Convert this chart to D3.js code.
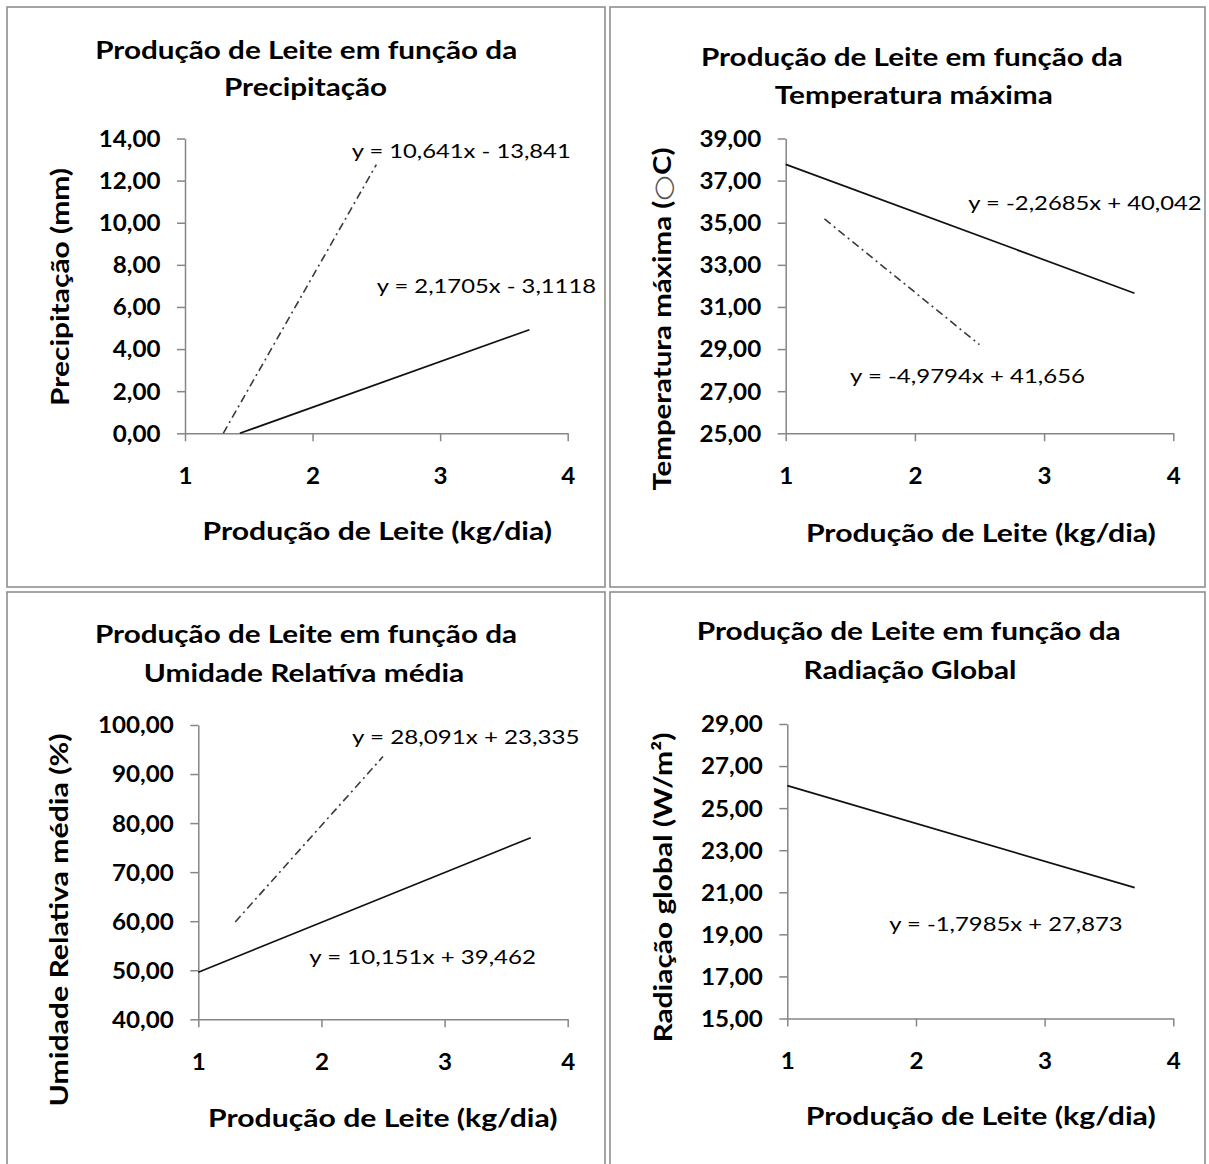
<!DOCTYPE html>
<html><head><meta charset="utf-8">
<script src="https://cdn.jsdelivr.net/npm/d3@7"></script>
<style>
html,body{margin:0;padding:0;background:#fff;}
svg{display:block;font-family:Lato,"Open Sans",sans-serif;}
</style>
</head><body>
<svg id="chart" width="1209" height="1164"></svg>
<script>
// ---------------- DATA ----------------
const xTickValues = [1, 2, 3, 4];
const xAxisTitle = "Produção de Leite (kg/dia)";

const titlesPrecip = ["Produção de Leite em função da", "Precipitação"];
const titlesTemp   = ["Produção de Leite em função da", "Temperatura máxima"];
const titlesUmid   = ["Produção de Leite em função da", "Umidade Relatíva média"];
const titlesRad    = ["Produção de Leite em função da", "Radiação Global"];

const yTitlePrecip = "Precipitação (mm)";
const yTitleTemp   = "Temperatura máxima (○C)";
const yTitleUmid   = "Umidade Relativa média (%)";
const yTitleRad    = "Radiação global (W/m²)";

const yTicksPrecip = [0, 2, 4, 6, 8, 10, 12, 14];
const yTicksTemp   = [25, 27, 29, 31, 33, 35, 37, 39];
const yTicksUmid   = [40, 50, 60, 70, 80, 90, 100];
const yTicksRad    = [15, 17, 19, 21, 23, 25, 27, 29];

// trend-line end points (x = Produção de Leite, y = variável)
const precipSolid   = [{x: 1.43, y: 0.00}, {x: 3.70, y: 4.92}];
const precipDashDot = [{x: 1.30, y: 0.00}, {x: 2.50, y: 12.76}];
const tempSolid     = [{x: 1.00, y: 37.77}, {x: 3.70, y: 31.65}];
const tempDashDot   = [{x: 1.30, y: 35.18}, {x: 2.50, y: 29.21}];
const umidSolid     = [{x: 1.00, y: 49.61}, {x: 3.70, y: 77.02}];
const umidDashDot   = [{x: 1.30, y: 59.85}, {x: 2.50, y: 93.56}];
const radSolid      = [{x: 1.00, y: 26.07}, {x: 3.70, y: 21.22}];

const eqPrecip = ["y = 10,641x - 13,841", "y = 2,1705x - 3,1118"];
const eqTemp   = ["y = -2,2685x + 40,042", "y = -4,9794x + 41,656"];
const eqUmid   = ["y = 28,091x + 23,335", "y = 10,151x + 39,462"];
const eqRad    = ["y = -1,7985x + 27,873"];

// ---------------- LAYOUT ----------------
const panels = [
  { titles: titlesPrecip, yTitle: yTitlePrecip, yTicks: yTicksPrecip,
    solid: precipSolid, dash: precipDashDot, eqs: eqPrecip,
    box: [7, 7, 605, 587], plot: {x0: 185, x1: 567.7, y0: 138.5, y1: 433.3},
    t: [{cx: 306.2, b: 58.5, w: 422}, {cx: 305.5, b: 96.2, w: 163}],
    yl: {cx: 62.5, cy: 287, len: 238}, xl: {cx: 377.3, b: 540, w: 349.5},
    eqPos: [{x: 351.7, b: 158.3, w: 219}, {x: 376.7, b: 293.3, w: 219.3}] },
  { titles: titlesTemp, yTitle: yTitleTemp, yTicks: yTicksTemp,
    solid: tempSolid, dash: tempDashDot, eqs: eqTemp,
    box: [610, 7, 1205, 587], plot: {x0: 785.7, x1: 1173.3, y0: 138.5, y1: 433.3},
    t: [{cx: 911.9, b: 66, w: 422}, {cx: 913.8, b: 103.8, w: 278}],
    yl: {cx: 665, cy: 319, len: 343}, xl: {cx: 980.9, b: 541.5, w: 350},
    eqPos: [{x: 968.3, b: 210, w: 233.4}, {x: 850, b: 383.3, w: 235}] },
  { titles: titlesUmid, yTitle: yTitleUmid, yTicks: yTicksUmid,
    solid: umidSolid, dash: umidDashDot, eqs: eqUmid,
    box: [7, 592, 605, 1172], plot: {x0: 198.3, x1: 567.7, y0: 725, y1: 1019.3},
    t: [{cx: 306, b: 642.5, w: 422}, {cx: 304, b: 681.5, w: 320.5}],
    yl: {cx: 62, cy: 920, len: 373}, xl: {cx: 382.8, b: 1127, w: 349.5},
    eqPos: [{x: 352, b: 743.5, w: 227.6}, {x: 309.2, b: 963.5, w: 226.8}] },
  { titles: titlesRad, yTitle: yTitleRad, yTicks: yTicksRad,
    solid: radSolid, dash: null, eqs: eqRad,
    box: [610, 592, 1205, 1172], plot: {x0: 787.3, x1: 1173.3, y0: 724, y1: 1018.5},
    t: [{cx: 908.7, b: 639.5, w: 424}, {cx: 910, b: 678.5, w: 213}],
    yl: {cx: 665.5, cy: 887.6, len: 310}, xl: {cx: 980.7, b: 1124.6, w: 350},
    eqPos: [{x: 889.2, b: 931.3, w: 233.5}] }
];

const ptBR = d3.formatLocale({decimal: ",", thousands: ".", grouping: [3], currency: ["R$", ""]});
const fmt2 = ptBR.format(".2f");

const svg = d3.select("#chart");
svg.append("rect").attr("width", 1209).attr("height", 1164).attr("fill", "#fff");

panels.forEach(p => {
  const g = svg.append("g");
  // panel border
  g.append("rect")
    .attr("x", p.box[0]).attr("y", p.box[1])
    .attr("width", p.box[2] - p.box[0]).attr("height", p.box[3] - p.box[1])
    .attr("fill", "none").attr("stroke", "#8f8f8f").attr("stroke-width", 1.6);

  const x = d3.scaleLinear().domain([1, 4]).range([p.plot.x0, p.plot.x1]);
  const y = d3.scaleLinear().domain(d3.extent(p.yTicks)).range([p.plot.y1, p.plot.y0]);

  // axes
  const yAx = g.append("g").attr("transform", `translate(${p.plot.x0},0)`)
    .call(d3.axisLeft(y).tickValues(p.yTicks).tickSizeInner(8).tickSizeOuter(0).tickPadding(16.5).tickFormat(fmt2));
  const xAx = g.append("g").attr("transform", `translate(0,${p.plot.y1})`)
    .call(d3.axisBottom(x).tickValues(xTickValues).tickSizeInner(8).tickSizeOuter(0).tickFormat(d3.format("d")));
  [yAx, xAx].forEach(a => {
    a.select(".domain").attr("stroke", "#868686").attr("stroke-width", 1.5);
    a.selectAll(".tick line").attr("stroke", "#868686").attr("stroke-width", 1.5);
    a.selectAll(".tick text").attr("fill", "#000")
      .style("font-family", "Lato, 'Open Sans', sans-serif")
      .style("font-weight", "bold").style("font-size", "22px");
  });
  yAx.selectAll(".tick text").attr("dy", "0.36em");
  xAx.selectAll(".tick text").attr("y", 50.7).attr("dy", 0);
  [yAx, xAx].forEach(a => a.selectAll(".tick text").each(function () {
    const L = this.getComputedTextLength();
    d3.select(this).attr("textLength", L * 1.1).attr("lengthAdjust", "spacingAndGlyphs");
  }));

  // trend lines
  const line = d3.line().x(d => x(d.x)).y(d => y(d.y));
  if (p.dash) {
    g.append("path").datum(p.dash).attr("d", line)
      .attr("fill", "none").attr("stroke", "#3a3a3a").attr("stroke-width", 1.6)
      .attr("stroke-dasharray", "8,4,2,4");
  }
  g.append("path").datum(p.solid).attr("d", line)
    .attr("fill", "none").attr("stroke", "#111").attr("stroke-width", 1.7);

  // titles
  p.titles.forEach((txt, i) => {
    g.append("text").attr("x", p.t[i].cx).attr("y", p.t[i].b)
      .attr("text-anchor", "middle").attr("font-weight", "bold").attr("font-size", 25)
      .attr("fill", "#000")
      .attr("textLength", p.t[i].w).attr("lengthAdjust", "spacingAndGlyphs")
      .text(txt);
  });

  // y axis title (symbol ○ drawn with a font that has it)
  const yt = g.append("text")
    .attr("transform", `translate(${p.yl.cx},${p.yl.cy}) rotate(-90)`)
    .attr("text-anchor", "middle").attr("dy", "0.26em")
    .attr("font-weight", "bold").attr("font-size", 24).attr("fill", "#000")
    .attr("textLength", p.yl.len).attr("lengthAdjust", "spacingAndGlyphs");
  p.yTitle.split(/(○)/).forEach(part => {
    if (!part) return;
    const ts = yt.append("tspan").text(part);
    if (part === "○") ts.style("font-family", "'DejaVu Sans'").attr("font-weight", "normal").attr("fill", "#555");
  });

  // x axis title
  g.append("text").attr("x", p.xl.cx).attr("y", p.xl.b)
    .attr("text-anchor", "middle").attr("font-weight", "bold").attr("font-size", 24)
    .attr("fill", "#000")
    .attr("textLength", p.xl.w).attr("lengthAdjust", "spacingAndGlyphs")
    .text(xAxisTitle);

  // equations
  p.eqs.forEach((txt, i) => {
    g.append("text").attr("x", p.eqPos[i].x).attr("y", p.eqPos[i].b)
      .attr("font-size", 20).attr("fill", "#000")
      .attr("textLength", p.eqPos[i].w).attr("lengthAdjust", "spacingAndGlyphs")
      .text(txt);
  });
});
</script>
</body></html>
